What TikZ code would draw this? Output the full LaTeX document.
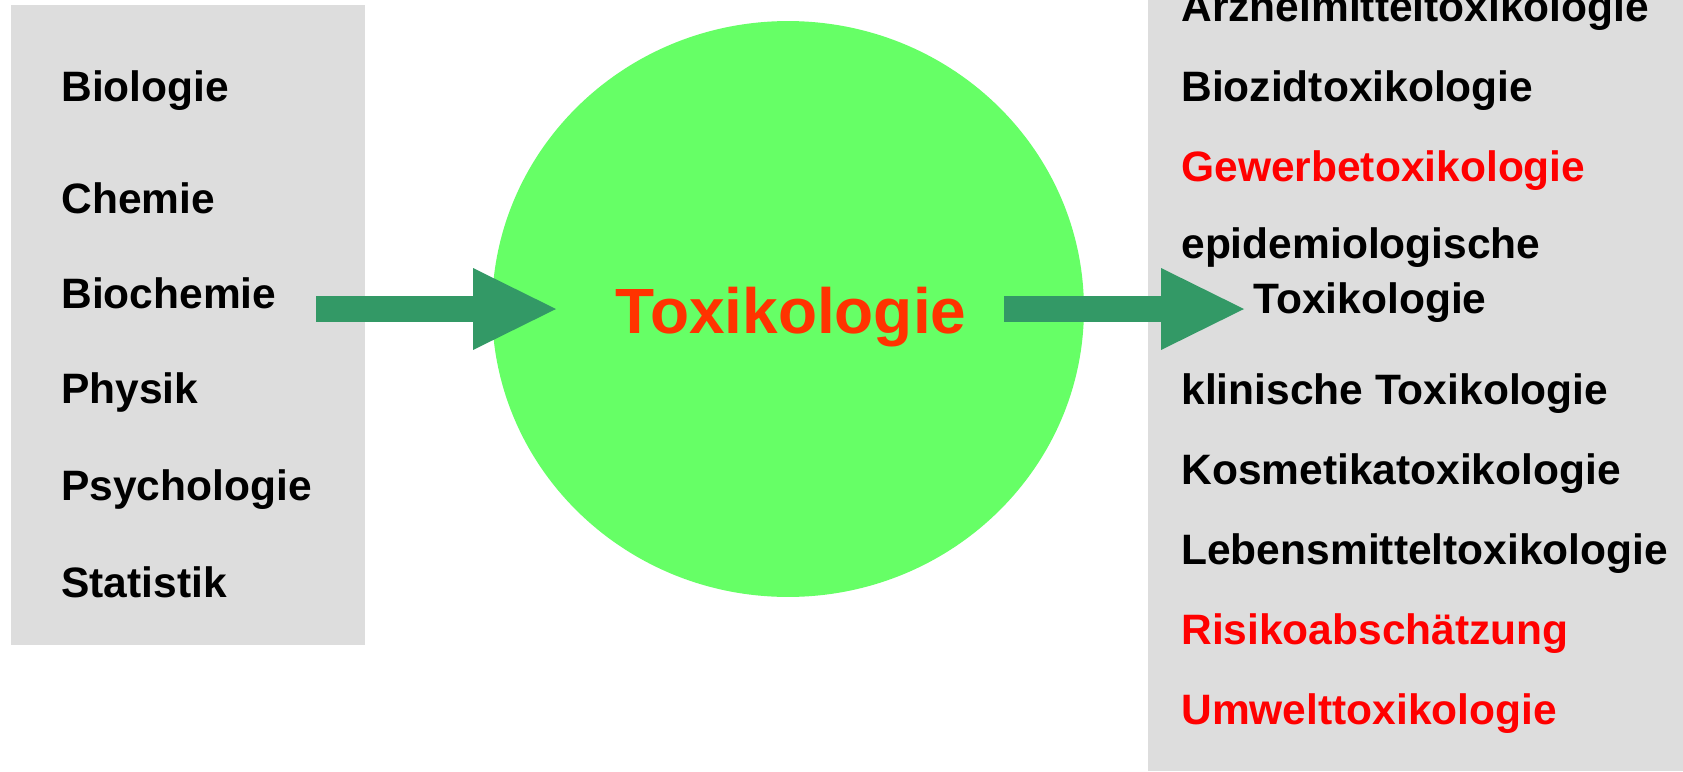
\documentclass[tikz,border=0pt]{standalone}
\usepackage{fontspec}
\setmainfont{Liberation Sans}
\usetikzlibrary{shapes.geometric,arrows.meta}
\definecolor{grau}{HTML}{DDDDDD}
\definecolor{gruen}{HTML}{66FF66}
\definecolor{pfeilgruen}{HTML}{339966}
\definecolor{rot}{HTML}{FF0000}
\definecolor{orangerot}{HTML}{FF3300}

\begin{document}
\begin{tikzpicture}[x=0.02cm,y=-0.02cm,
  fach/.style={anchor=base west,inner sep=0pt,font=\fontsize{24.2}{29}\selectfont\bfseries},
  blockpfeil/.style={pfeilgruen,line width=0.52cm,-{Triangle[length=1.66cm,width=1.64cm,line width=0pt]}}]
\useasboundingbox (0,0) rectangle (1683,771);

\node[fill=grau,anchor=north west,inner sep=0pt,minimum width=7.07cm,minimum height=12.8cm] (links) at (11,5) {};
\node[fill=grau,anchor=north west,inner sep=0pt,minimum width=10.7cm,minimum height=15.42cm] (rechts) at (1148,0) {};
\node[ellipse,fill=gruen,inner sep=0pt,minimum width=11.84cm,minimum height=11.52cm] (kreis) at (788,309) {};
\node[anchor=base,inner sep=0pt,text=orangerot,font=\fontsize{36.4}{44}\selectfont\bfseries] (mitte) at (791,333) {Toxikologie};

\node[fach] (bio) at (61,101) {Biologie};
\node[fach] (chem) at (61,213) {Chemie};
\node[fach] (biochem) at (61,308) {Biochemie};
\node[fach] (phys) at (61,403) {Physik};
\node[fach] (psych) at (61,500) {Psychologie};
\node[fach] (stat) at (61,597) {Statistik};

\node[fach] (arznei) at (1181,21) {Arzneimitteltoxikologie};
\node[fach] (biozid) at (1181,101) {Biozidtoxikologie};
\node[fach,text=rot] (gewerbe) at (1181,181) {Gewerbetoxikologie};
\node[fach] (epi) at (1181,258) {epidemiologische};
\node[fach] (epitox) at (1253,313) {Toxikologie};
\node[fach] (klinik) at (1181,404) {klinische Toxikologie};
\node[fach] (kosmetik) at (1181,484) {Kosmetikatoxikologie};
\node[fach] (lebensm) at (1181,564) {Lebensmitteltoxikologie};
\node[fach,text=rot] (risiko) at (1181,644) {Risikoabschätzung};
\node[fach,text=rot] (umwelt) at (1181,724) {Umwelttoxikologie};

\coordinate (ein) at (316,309);
\coordinate (einspitze) at (556,309);
\coordinate (aus) at (1004,309);
\coordinate (ausspitze) at (1244,309);
\draw[blockpfeil] (ein) -- (einspitze);
\draw[blockpfeil] (aus) -- (ausspitze);
\end{tikzpicture}
\end{document}
